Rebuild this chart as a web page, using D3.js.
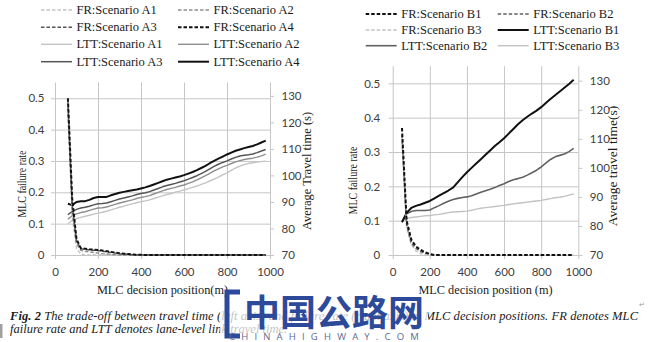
<!DOCTYPE html>
<html>
<head>
<meta charset="utf-8">
<script src="https://cdn.jsdelivr.net/npm/d3@7"></script>
<style>
  html, body { margin: 0; padding: 0; background: #fff; }
  svg { display: block; }
  .tick text { font-family: Lato, "Open Sans", sans-serif; font-size: 11.5px; fill: #404040; }
  .serif { font-family: "Liberation Serif", "Times New Roman", serif; fill: #1a1a1a; }
</style>
</head>
<body>
<script>
// MLC decision positions (m)
const xLeft = [60, 80, 100, 120, 140, 160, 180, 200, 220, 240,
  260, 280, 300, 320, 340, 360, 380, 400, 420, 440,
  460, 480, 500, 520, 540, 560, 580, 600, 620, 640,
  660, 680, 700, 720, 740, 760, 780, 800, 820, 840,
  860, 880, 900, 920, 940, 960, 980];
const xRight = [50, 75, 100, 125, 150, 175, 200, 225, 250, 275,
  300, 325, 350, 375, 400, 425, 450, 475, 500, 525,
  550, 575, 600, 625, 650, 675, 700, 725, 750, 775,
  800, 825, 850, 875, 900, 925, 950, 975];

// Lane-level link travel time (s), scenarios A
const lttA1 = [81.8, 83.0, 83.7, 84.2, 84.6, 85.0, 85.4, 85.8, 86.1, 86.5,
  87.0, 87.5, 88.0, 88.4, 88.9, 89.3, 89.7, 90.1, 90.4, 90.8,
  91.3, 91.8, 92.3, 92.8, 93.2, 93.7, 94.1, 94.5, 95.0, 95.5,
  96.0, 96.6, 97.2, 97.9, 98.6, 99.4, 100.2, 101.0, 101.9, 102.8,
  103.5, 104.1, 104.5, 104.8, 105.0, 105.2, 105.4];
const lttA2 = [83.5, 84.8, 85.5, 86.0, 86.3, 86.8, 87.3, 87.7, 87.8, 88.1,
  88.6, 89.1, 89.6, 90.0, 90.4, 90.8, 91.3, 91.7, 92.0, 92.4,
  93.0, 93.6, 94.2, 94.7, 95.1, 95.5, 96.0, 96.4, 97.0, 97.6,
  98.3, 99.1, 99.9, 100.8, 101.7, 102.5, 103.2, 103.8, 104.5, 105.1,
  105.6, 106.0, 106.3, 106.5, 106.9, 107.4, 108.0];
const lttA3 = [85.2, 86.4, 87.2, 87.7, 88.0, 88.4, 88.9, 89.3, 89.4, 89.6,
  90.1, 90.6, 91.1, 91.5, 91.9, 92.3, 92.8, 93.2, 93.5, 93.9,
  94.5, 95.1, 95.7, 96.2, 96.6, 97.0, 97.5, 98.0, 98.6, 99.2,
  99.9, 100.7, 101.5, 102.5, 103.4, 104.2, 104.9, 105.5, 106.2, 106.8,
  107.3, 107.6, 107.8, 108.1, 108.6, 109.2, 109.8];
const lttA4 = [89.3, 88.8, 90.0, 90.3, 90.3, 90.8, 91.5, 91.9, 91.9, 91.9,
  92.5, 93.0, 93.5, 93.8, 94.1, 94.4, 94.7, 95.1, 95.5, 96.0,
  96.6, 97.2, 97.8, 98.4, 98.8, 99.2, 99.6, 100.1, 100.7, 101.3,
  102.0, 102.8, 103.6, 104.6, 105.5, 106.3, 107.1, 107.9, 108.6, 109.3,
  109.8, 110.3, 110.7, 111.1, 111.7, 112.4, 113.1];

// MLC failure rate, scenarios A
const frA1 = [0.45, 0.12, 0.02, 0.003, 0, 0, 0, 0, 0, 0,
  0, 0, 0, 0, 0, 0, 0, 0, 0, 0,
  0, 0, 0, 0, 0, 0, 0, 0, 0, 0,
  0, 0, 0, 0, 0, 0, 0, 0, 0, 0,
  0, 0, 0, 0, 0, 0, 0];
const frA2 = [0.47, 0.14, 0.035, 0.015, 0.012, 0.010, 0.008, 0.006, 0.004, 0.003,
  0.002, 0.001, 0, 0, 0, 0, 0, 0, 0, 0,
  0, 0, 0, 0, 0, 0, 0, 0, 0, 0,
  0, 0, 0, 0, 0, 0, 0, 0, 0, 0,
  0, 0, 0, 0, 0, 0, 0];
const frA3 = [0.49, 0.16, 0.045, 0.020, 0.018, 0.016, 0.015, 0.014, 0.012, 0.010,
  0.008, 0.006, 0.004, 0.003, 0.002, 0.001, 0, 0, 0, 0,
  0, 0, 0, 0, 0, 0, 0, 0, 0, 0,
  0, 0, 0, 0, 0, 0, 0, 0, 0, 0,
  0, 0, 0, 0, 0, 0, 0];
const frA4 = [0.50, 0.18, 0.05, 0.022, 0.020, 0.018, 0.017, 0.016, 0.014, 0.012,
  0.010, 0.008, 0.006, 0.004, 0.003, 0.002, 0.001, 0.001, 0, 0,
  0, 0, 0, 0, 0, 0, 0, 0, 0, 0,
  0, 0, 0, 0, 0, 0, 0, 0, 0, 0,
  0, 0, 0, 0, 0, 0, 0];

// Lane-level link travel time (s), scenarios B
const lttB1 = [81.3, 84.5, 86.2, 86.9, 87.4, 88.0, 88.6, 89.5, 90.4, 91.3,
  92.2, 93.2, 95.0, 96.8, 98.5, 100.0, 101.5, 103.0, 104.5, 106.0,
  107.5, 108.8, 110.2, 111.8, 113.4, 115.0, 116.4, 117.6, 118.7, 119.7,
  120.9, 122.3, 123.7, 125.0, 126.3, 127.6, 128.9, 130.3];
const lttB2 = [81.3, 84.2, 85.0, 85.3, 85.3, 85.3, 85.5, 86.3, 87.0, 87.8,
  88.5, 89.1, 89.5, 89.8, 90.0, 90.4, 91.0, 91.6, 92.1, 92.6,
  93.2, 93.9, 94.5, 95.3, 95.9, 96.3, 96.8, 97.5, 98.3, 99.2,
  100.3, 101.6, 102.9, 103.8, 104.3, 104.8, 105.6, 106.7];
const lttB3 = [81.3, 82.6, 82.9, 83.1, 83.3, 83.5, 83.6, 83.8, 84.0, 84.3,
  84.6, 84.8, 84.9, 85.0, 85.1, 85.4, 85.8, 86.1, 86.3, 86.5,
  86.7, 86.9, 87.1, 87.4, 87.6, 87.8, 88.0, 88.2, 88.4, 88.6,
  88.8, 89.1, 89.4, 89.7, 89.9, 90.2, 90.6, 91.0];

// MLC failure rate, scenarios B
const frB1 = [0.37, 0.10, 0.045, 0.025, 0.015, 0.008, 0.003, 0, 0, 0,
  0, 0, 0, 0, 0, 0, 0, 0, 0, 0,
  0, 0, 0, 0, 0, 0, 0, 0, 0, 0,
  0, 0, 0, 0, 0, 0, 0, 0];
const frB2 = [0.35, 0.09, 0.035, 0.020, 0.010, 0.005, 0.002, 0, 0, 0,
  0, 0, 0, 0, 0, 0, 0, 0, 0, 0,
  0, 0, 0, 0, 0, 0, 0, 0, 0, 0,
  0, 0, 0, 0, 0, 0, 0, 0];
const frB3 = [0.33, 0.08, 0.030, 0.012, 0.004, 0.001, 0, 0, 0, 0,
  0, 0, 0, 0, 0, 0, 0, 0, 0, 0,
  0, 0, 0, 0, 0, 0, 0, 0, 0, 0,
  0, 0, 0, 0, 0, 0, 0, 0];

// Axis ticks
const xTicks = [0, 200, 400, 600, 800, 1000];
const rateTicks = [0, 0.1, 0.2, 0.3, 0.4, 0.5];
const timeTicks = [70, 80, 90, 100, 110, 120, 130];

// Series styling
const styles = {
  A1: { color: "#c4c4c4", w: 1.4 },
  A2: { color: "#8e8e8e", w: 1.4 },
  A3: { color: "#555555", w: 1.5 },
  A4: { color: "#111111", w: 2 },
  B1: { color: "#111111", w: 2 },
  B2: { color: "#616161", w: 1.6 },
  B3: { color: "#c2c2c2", w: 1.4 }
};
const DASH = "3.5,2";

const svg = d3.select("body").append("svg")
  .attr("width", 650).attr("height", 342);

function drawPanel(p) {
  const x = d3.scaleLinear().domain([0, 1000]).range([p.left, p.right]);
  const yRate = d3.scaleLinear().domain([0, 0.55]).range([p.bottom, p.top]);
  const yTime = d3.scaleLinear().domain([70, 135]).range([p.bottom, p.top]);
  const g = svg.append("g");

  // vertical gridlines
  g.append("g")
    .attr("transform", `translate(0,${p.bottom})`)
    .call(d3.axisBottom(x).tickValues(xTicks).tickSize(-(p.bottom - p.top)).tickFormat(""))
    .call(s => s.select(".domain").remove())
    .call(s => s.selectAll("line").attr("stroke", "#c6c6c6"));
  // horizontal gridlines
  g.append("g")
    .attr("transform", `translate(${p.left},0)`)
    .call(d3.axisLeft(yRate).tickValues(rateTicks).tickSize(-(p.right - p.left)).tickFormat(""))
    .call(s => s.select(".domain").remove())
    .call(s => s.selectAll("line").attr("stroke", "#c6c6c6"));

  // axes
  const fmtRate = d => d === 0 ? "0" : d3.format(".1f")(d);
  g.append("g")
    .attr("transform", `translate(${p.left},0)`)
    .call(d3.axisLeft(yRate).tickValues(rateTicks).tickSize(4).tickPadding(p.padL).tickFormat(fmtRate))
    .call(s => s.select(".domain").remove())
    .call(s => s.selectAll("line").attr("stroke", "#c6c6c6"));
  g.append("g")
    .attr("transform", `translate(${p.right},0)`)
    .call(d3.axisRight(yTime).tickValues(timeTicks).tickSize(4).tickPadding(p.padR).tickFormat(d3.format("d")))
    .call(s => s.select(".domain").remove())
    .call(s => s.selectAll("line").attr("stroke", "#c6c6c6"));
  g.append("g")
    .attr("transform", `translate(0,${p.bottom})`)
    .call(d3.axisBottom(x).tickValues(xTicks).tickSize(4).tickPadding(9).tickFormat(d3.format("d")))
    .call(s => s.select(".domain").remove())
    .call(s => s.selectAll("line").attr("stroke", "#c6c6c6"));
  g.selectAll(".tick text").attr("font-family", null).attr("font-size", null);

  // travel time curves (secondary axis)
  const lineT = d3.line().x(d => x(d[0])).y(d => yTime(d[1]));
  p.ltt.forEach(s => {
    const st = styles[s.key];
    g.append("path")
      .datum(p.xs.map((v, i) => [v, s.values[i]]))
      .attr("d", lineT).attr("fill", "none")
      .attr("stroke", st.color).attr("stroke-width", st.w)
      .attr("stroke-linejoin", "round");
  });
  // failure rate curves (primary axis)
  const lineR = d3.line().x(d => x(d[0])).y(d => yRate(d[1]));
  p.fr.forEach(s => {
    const st = styles[s.key];
    g.append("path")
      .datum(p.xs.map((v, i) => [v, s.values[i]]))
      .attr("d", lineR).attr("fill", "none")
      .attr("stroke", st.color).attr("stroke-width", st.w)
      .attr("stroke-dasharray", DASH);
  });

  // axis titles
  g.append("text").attr("class", "serif")
    .attr("x", (p.left + p.right) / 2).attr("y", 294)
    .attr("text-anchor", "middle").attr("font-size", 12.3)
    .text(p.xTitle);
  g.append("text").attr("class", "serif")
    .attr("transform", `translate(${p.yl.x},${p.yl.y}) rotate(-90)`)
    .attr("x", -p.yl.len / 2)
    .attr("dy", "0.35em").attr("font-size", 12.5)
    .attr("textLength", p.yl.len).attr("lengthAdjust", "spacingAndGlyphs")
    .text("MLC failure rate");
  g.append("text").attr("class", "serif")
    .attr("transform", `translate(${p.yr.x},${p.yr.y}) rotate(-90)`)
    .attr("text-anchor", "middle").attr("dy", "0.35em").attr("font-size", p.yr.size)
    .text(p.yr.text);

  // legend
  p.legend.forEach(e => {
    const st = styles[e.key];
    g.append("line")
      .attr("x1", e.x).attr("x2", e.x + p.legLine)
      .attr("y1", e.y).attr("y2", e.y)
      .attr("stroke", st.color).attr("stroke-width", st.w)
      .attr("stroke-dasharray", e.dash ? DASH : null);
    g.append("text").attr("class", "serif")
      .attr("x", e.x + p.legLine + 4.5).attr("y", e.y).attr("dy", "0.33em")
      .attr("font-size", 12.5)
      .text(e.label);
  });
}

const colL1 = 41, colL2 = 178, rowsL = [10, 27.3, 44.3, 61.7];
drawPanel({
  left: 55, right: 270, top: 82.6, bottom: 255, padL: 6.5, padR: 7.5,
  xs: xLeft,
  ltt: [{ key: "A1", values: lttA1 }, { key: "A2", values: lttA2 },
        { key: "A3", values: lttA3 }, { key: "A4", values: lttA4 }],
  fr: [{ key: "A1", values: frA1 }, { key: "A2", values: frA2 },
       { key: "A3", values: frA3 }, { key: "A4", values: frA4 }],
  xTitle: "MLC decision position(m)",
  yl: { x: 22, y: 184, len: 67 },
  yr: { x: 307, y: 171, size: 12.5, text: "Average Travel time (s)" },
  legLine: 31,
  legend: [
    { key: "A1", dash: true, label: "FR:Scenario A1", x: colL1, y: rowsL[0] },
    { key: "A2", dash: true, label: "FR:Scenario A2", x: colL2, y: rowsL[0] },
    { key: "A3", dash: true, label: "FR:Scenario A3", x: colL1, y: rowsL[1] },
    { key: "A4", dash: true, label: "FR:Scenario A4", x: colL2, y: rowsL[1] },
    { key: "A1", dash: false, label: "LTT:Scenario A1", x: colL1, y: rowsL[2] },
    { key: "A2", dash: false, label: "LTT:Scenario A2", x: colL2, y: rowsL[2] },
    { key: "A3", dash: false, label: "LTT:Scenario A3", x: colL1, y: rowsL[3] },
    { key: "A4", dash: false, label: "LTT:Scenario A4", x: colL2, y: rowsL[3] }
  ]
});

const colR1 = 365.7, colR2 = 497.7, rowsR = [14, 30, 45.7];
drawPanel({
  left: 392.7, right: 578.3, top: 66.2, bottom: 255, padL: 8.5, padR: 7.5,
  xs: xRight,
  ltt: [{ key: "B3", values: lttB3 }, { key: "B2", values: lttB2 }, { key: "B1", values: lttB1 }],
  fr: [{ key: "B3", values: frB3 }, { key: "B2", values: frB2 }, { key: "B1", values: frB1 }],
  xTitle: "MLC decision position (m)",
  yl: { x: 352.3, y: 180.5, len: 68 },
  yr: { x: 612.3, y: 166, size: 13.5, text: "Average travel time(s)" },
  legLine: 31,
  legend: [
    { key: "B1", dash: true, label: "FR:Scenario B1", x: colR1, y: rowsR[0] },
    { key: "B2", dash: true, label: "FR:Scenario B2", x: colR2, y: rowsR[0] },
    { key: "B3", dash: true, label: "FR:Scenario B3", x: colR1, y: rowsR[1] },
    { key: "B1", dash: false, label: "LTT:Scenario B1", x: colR2, y: rowsR[1] },
    { key: "B2", dash: false, label: "LTT:Scenario B2", x: colR1, y: rowsR[2] },
    { key: "B3", dash: false, label: "LTT:Scenario B3", x: colR2, y: rowsR[2] }
  ]
});

// figure caption
const cap = svg.append("g").attr("class", "serif")
  .attr("font-size", 12.5).attr("font-style", "italic");
const line1 = cap.append("text").attr("x", 10).attr("y", 320)
  .attr("textLength", 628).attr("lengthAdjust", "spacing");
line1.append("tspan").attr("font-weight", "bold").text("Fig. 2");
line1.append("tspan").text(" The trade-off between travel time (left axis) and failure rate (right axis) at MLC decision positions. FR denotes MLC");
cap.append("text").attr("x", 10).attr("y", 333)
  .text("failure rate and LTT denotes lane-level link travel time.");
svg.append("text").attr("x", 639).attr("y", 307)
  .attr("font-size", 7).attr("fill", "#999").text("\u21B5");
svg.append("rect").attr("x", 0).attr("y", 324).attr("width", 2.5).attr("height", 14)
  .attr("fill", "#a0a0a0");

// site watermark
const wm = svg.append("g");
wm.append("rect").attr("x", 220).attr("y", 300).attr("width", 208).attr("height", 42)
  .attr("fill", "#fff").attr("opacity", 0.72);
wm.append("path")
  .attr("d", "M240,292 L227,292 L227,336 L240,336")
  .attr("fill", "none").attr("stroke", "#2d4a9a").attr("stroke-width", 5);
wm.append("text").attr("x", 244).attr("y", 326)
  .attr("font-family", "'Noto Sans CJK SC', sans-serif").attr("font-weight", "bold")
  .attr("font-size", 36).attr("fill", "#2d4a9a")
  .text("中国公路网");
wm.append("text").attr("x", 229).attr("y", 340)
  .attr("font-family", "'Open Sans', sans-serif").attr("font-size", 9.5)
  .attr("letter-spacing", 6.2).attr("fill", "#5c6a93")
  .text("CHINAHIGHWAY.COM");
</script>
</body>
</html>
